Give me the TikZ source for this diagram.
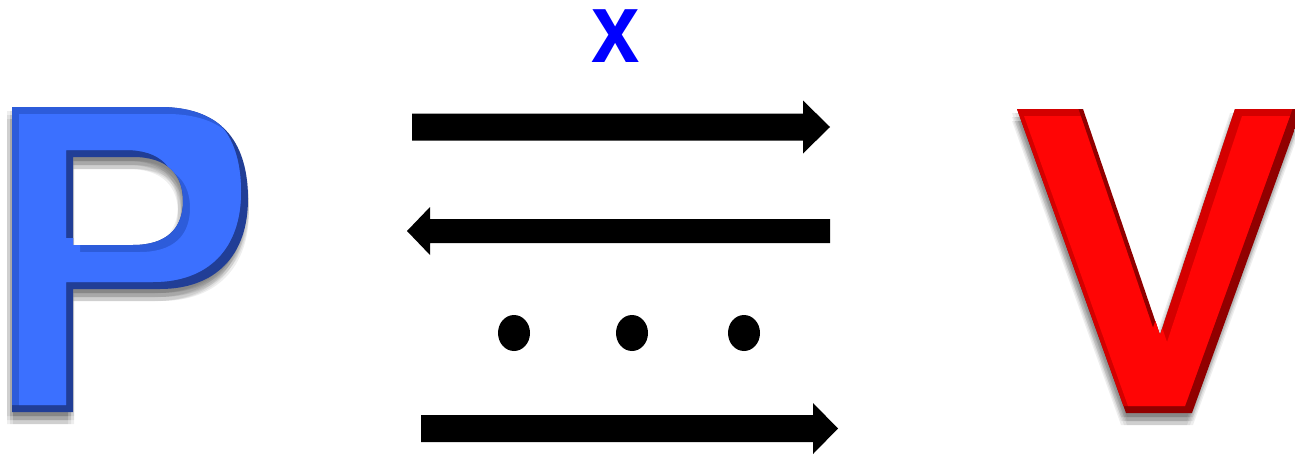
\documentclass[tikz,border=0pt]{standalone}
\usepackage{fontspec}
\newfontfamily\xfont{Liberation Sans}
\usetikzlibrary{calc}
\definecolor{Pface}{RGB}{59,112,255}
\definecolor{Pmid}{RGB}{45,92,218}
\definecolor{Pdark}{RGB}{33,62,150}
\definecolor{Vface}{RGB}{255,5,5}
\definecolor{Vmid}{RGB}{212,0,0}
\definecolor{Vdark}{RGB}{145,0,0}
\definecolor{xblue}{RGB}{0,0,255}
% P outline (outer clockwise, hole counter-clockwise -> nonzero rule gives a hole)
\def\PPath{(12,107) -- (160,107) .. controls (226,107) and (248,147) .. (248,199) .. controls (248,256) and (215,289) .. (160,289) -- (73,289) -- (73,412) -- (12,412) -- cycle
 (73,157) -- (73,245) -- (133,245) .. controls (166,245) and (183,229) .. (183,201) .. controls (183,175) and (168,157) .. (133,157) -- cycle}
\def\VPath{(1017,109) -- (1083,109) -- (1160,335) -- (1235,109) -- (1302,109) -- (1192,413) -- (1126,413) -- cycle}
\tikzset{
  arrowfill/.style={fill=black},
  dotfill/.style={fill=black},
  shadowlayer/.style={fill=black,opacity=0.065},
  xlabel/.style={text=xblue,inner sep=0pt,text height=52pt,text depth=0pt,font=\xfont\bfseries\fontsize{100}{100}\selectfont}
}
\newcommand\blkarrow[5]{%
  \coordinate (H) at ($(#2)!#4!(#1)$);
  \fill[arrowfill] ($(#1)!#3!90:(#2)$) -- ($(H)!#3!90:(#2)$) -- ($(H)!#5!90:(#2)$) -- (#2)
    -- ($(H)!#5!-90:(#2)$) -- ($(H)!#3!-90:(#2)$) -- ($(#1)!#3!-90:(#2)$) -- cycle;}
\newcommand\bevelletter[4]{% path, dark, mid, face
  \begin{scope}
    \clip #1;
    \fill[#2] (-10,-10) rectangle (1310,470);
    \fill[#3,shift={(-7,-7)}] #1;
    \begin{scope}
      \clip[shift={(-7,-7)}] #1;
      \fill[#4,shift={(7,7)}] #1;
    \end{scope}
  \end{scope}}
\begin{document}
\begin{tikzpicture}[x=1pt,y=-1pt]
\clip (0,0) rectangle (1295,455);
\fill[white] (0,0) rectangle (1295,455);
% shadows
\foreach \dx in {-5,-2,1} \foreach \dy in {4,8,12} {
  \fill[shadowlayer,shift={(\dx,\dy)}] \PPath;
  \fill[shadowlayer,shift={(\dx,\dy)}] \VPath;
}
% letters
\bevelletter{\PPath}{Pdark}{Pmid}{Pface}
\bevelletter{\VPath}{Vdark}{Vmid}{Vface}
% label
\node[xlabel,anchor=base] (xl) at (615.5,62) {\scalebox{0.87}[1]{x}};
% arrows
\coordinate (a1s) at (412,127);
\coordinate (a1e) at (830,127);
\coordinate (a2s) at (830,231);
\coordinate (a2e) at (407,231);
\coordinate (a3s) at (421,428.5);
\coordinate (a3e) at (838,428.5);
\blkarrow{a1s}{a1e}{13.5pt}{27pt}{26.5pt}
\blkarrow{a2s}{a2e}{12pt}{23pt}{24pt}
\blkarrow{a3s}{a3e}{13.5pt}{25pt}{25.5pt}
% dots
\fill[dotfill] (514,333) ellipse [x radius=16pt, y radius=18pt];
\fill[dotfill] (632,333) ellipse [x radius=16pt, y radius=18pt];
\fill[dotfill] (744,333) ellipse [x radius=16pt, y radius=18pt];
\end{tikzpicture}
\end{document}
